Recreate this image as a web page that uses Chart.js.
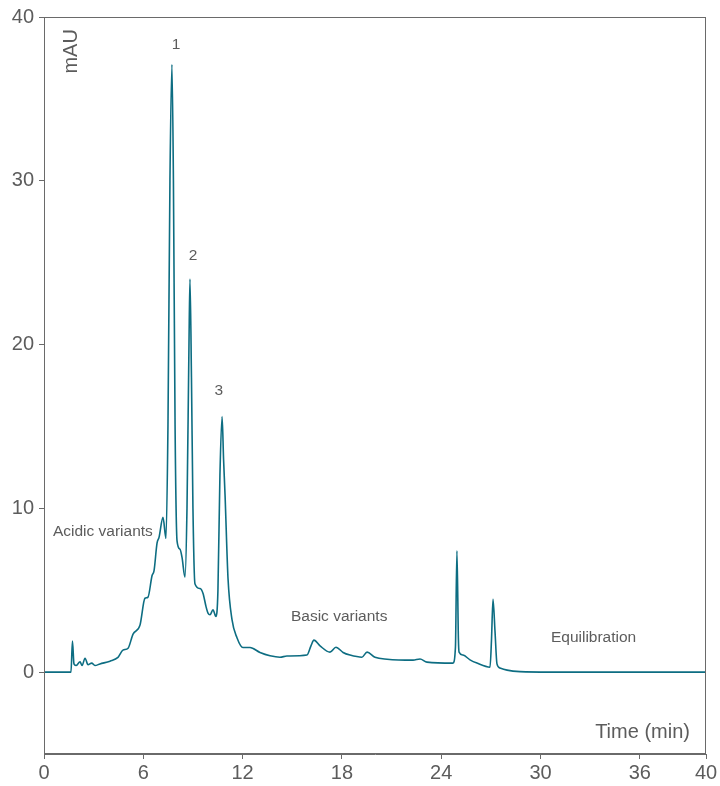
<!DOCTYPE html>
<html>
<head>
<meta charset="utf-8">
<script src="https://cdn.jsdelivr.net/npm/chart.js@4/dist/chart.umd.min.js"></script>
<style>
html,body{margin:0;padding:0;background:#fff;}
#wrap{width:720px;height:786px;position:relative;}
</style>
</head>
<body>
<div id="wrap"><canvas id="c"></canvas></div>
<script>
// Retention time (min)
const times = [0, 1.63, 1.72, 1.81, 1.93, 2.18, 2.30, 2.48, 2.66, 2.88, 3.08, 3.38, 3.99, 4.47, 4.77, 5.08, 5.38, 5.80, 6.10, 6.28, 6.53, 6.65, 6.83, 6.95, 7.19, 7.37, 7.49, 7.61, 7.73, 7.82, 7.92, 8.04, 8.22, 8.34, 8.52, 8.64, 8.76, 8.82, 8.91, 9.00, 9.12, 9.43, 9.61, 9.79, 9.91, 10.03, 10.21, 10.39, 10.51, 10.63, 10.76, 10.85, 10.94, 11.12, 11.36, 11.66, 12.02, 12.45, 13.05, 13.66, 14.26, 14.68, 15.89, 16.13, 16.31, 16.68, 17.28, 17.64, 18.07, 18.49, 19.21, 19.52, 20.00, 20.73, 22.30, 22.72, 23.14, 24.71, 24.86, 24.95, 25.04, 25.08, 25.32, 25.74, 26.16, 26.95, 27.04, 27.13, 27.25, 27.37, 27.55, 27.98, 28.76, 30.57, 40];
// Absorbance (mAU)
const absorbance = [0, 0, 1.89, 0.5, 0.4, 0.63, 0.4, 0.85, 0.45, 0.55, 0.4, 0.5, 0.67, 0.9, 1.34, 1.46, 2.32, 2.87, 4.51, 4.57, 5.9, 6.2, 7.87, 8.23, 9.45, 8.17, 15, 30, 37.1, 30, 15, 8, 7.5, 7.0, 5.8, 10, 20, 24.0, 18, 10, 5.4, 5.1, 4.8, 4.0, 3.6, 3.5, 3.8, 3.4, 5, 12, 15.6, 13, 10.8, 5.7, 3.2, 2.1, 1.5, 1.5, 1.2, 1.0, 0.91, 0.98, 1.04, 1.6, 1.95, 1.6, 1.22, 1.52, 1.2, 1.04, 0.91, 1.22, 0.91, 0.79, 0.73, 0.8, 0.61, 0.55, 1.5, 7.4, 2, 1.22, 1.04, 0.75, 0.55, 0.3, 2, 4.45, 2.5, 0.5, 0.25, 0.12, 0.03, 0, 0];
const xTickValues = [0, 6, 12, 18, 24, 30, 36, 40];
const yTickValues = [0, 10, 20, 30, 40];
// Annotations: text, x (min), y (mAU)
const annoTexts = ["1", "2", "3", "Acidic variants", "Basic variants", "Equilibration"];
const annoX = [7.98, 9.0, 10.57, 0.54, 14.92, 30.63];
const annoY = [38.3, 25.4, 17.2, 8.6, 3.4, 2.07];
const annoAlign = ["center", "center", "center", "left", "left", "left"];

const TEXT = '#5c5c5c';
const AXIS = '#6a6a6a';
const FONT = '"Liberation Sans", Arial, sans-serif';

const points = times.map((t, i) => ({x: t, y: absorbance[i]}));

const framePlugin = {
  id: 'frame',
  afterDraw(chart) {
    const {ctx, chartArea: a, scales} = chart;
    ctx.save();
    ctx.strokeStyle = AXIS;
    ctx.lineWidth = 1;
    ctx.strokeRect(a.left + 0.5, a.top + 0.5, a.right - a.left - 1, a.bottom - a.top - 1);
    ctx.fillStyle = TEXT;
    ctx.textBaseline = 'middle';
    ctx.font = '15.5px ' + FONT;
    annoTexts.forEach((txt, i) => {
      ctx.textAlign = annoAlign[i];
      ctx.fillText(txt, scales.x.getPixelForValue(annoX[i]), scales.y.getPixelForValue(annoY[i]));
    });
    // axis titles
    ctx.font = '20px ' + FONT;
    ctx.textAlign = 'right';
    ctx.fillText('Time (min)', scales.x.getPixelForValue(39.03), scales.y.getPixelForValue(-3.7));
    ctx.save();
    ctx.translate(scales.x.getPixelForValue(1.69), scales.y.getPixelForValue(37.9));
    ctx.rotate(-Math.PI / 2);
    ctx.textAlign = 'center';
    ctx.fillText('mAU', 0, 0);
    ctx.restore();
    ctx.restore();
  }
};

new Chart(document.getElementById('c'), {
  type: 'line',
  data: {
    datasets: [{
      data: points,
      borderColor: '#0d6d82',
      borderWidth: 1.6,
      pointRadius: 0,
      fill: false,
      cubicInterpolationMode: 'monotone'
    }]
  },
  options: {
    responsive: true,
    maintainAspectRatio: false,
    animation: false,
    layout: {padding: {top: 16, right: 14, left: 0, bottom: 0}},
    plugins: {legend: {display: false}, tooltip: {enabled: false}},
    scales: {
      x: {
        type: 'linear', min: 0, max: 40,
        afterBuildTicks(s) { s.ticks = xTickValues.map(v => ({value: v})); },
        afterFit(s) { s.height = 32; },
        grid: {display: true, drawOnChartArea: false, drawTicks: true, tickLength: 5, color: AXIS},
        border: {display: true, color: AXIS},
        ticks: {color: TEXT, font: {family: FONT, size: 20}, padding: 2, maxRotation: 0, autoSkip: false}
      },
      y: {
        type: 'linear', min: -5, max: 40,
        afterBuildTicks(s) { s.ticks = yTickValues.map(v => ({value: v})); },
        afterFit(s) { s.width = 44; },
        grid: {display: true, drawOnChartArea: false, drawTicks: true, tickLength: 5, color: AXIS},
        border: {display: true, color: AXIS},
        ticks: {color: TEXT, font: {family: FONT, size: 20}, padding: 5, autoSkip: false}
      }
    }
  },
  plugins: [framePlugin]
});
</script>
</body>
</html>
